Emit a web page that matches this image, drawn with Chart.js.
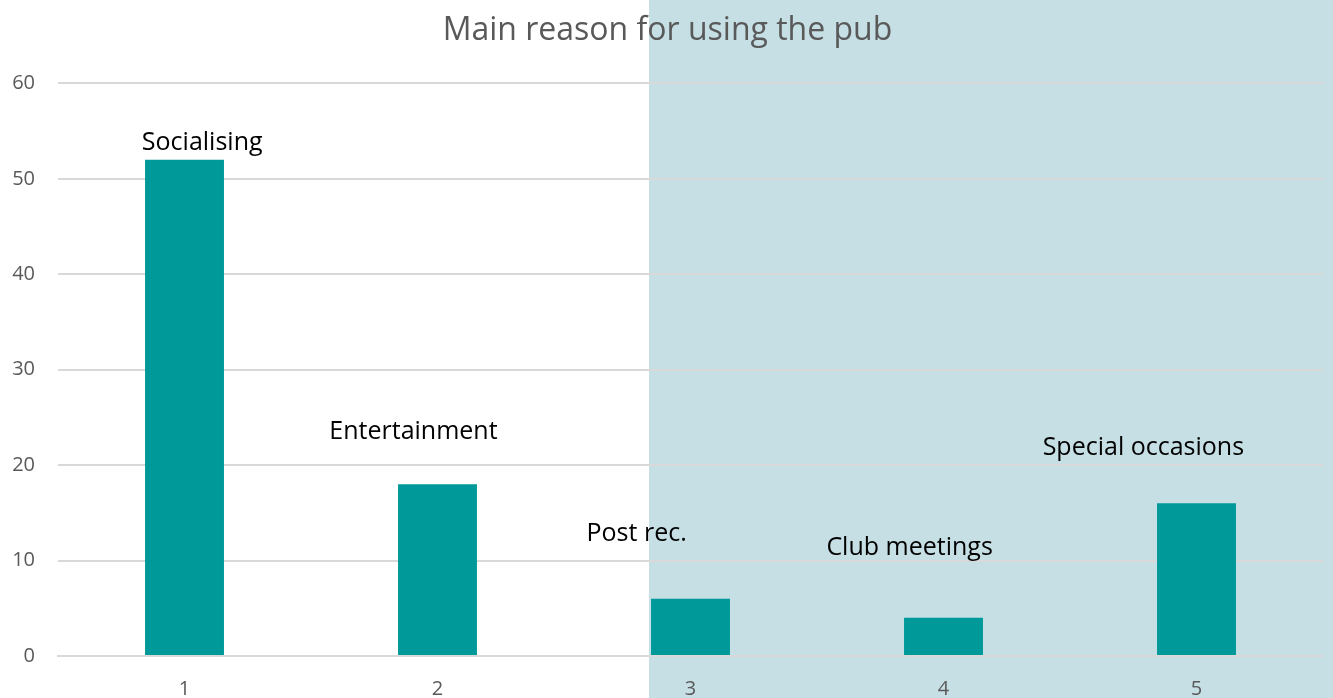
<!DOCTYPE html>
<html>
<head>
<meta charset="utf-8">
<title>Main reason for using the pub</title>
<script src="https://cdn.jsdelivr.net/npm/chart.js@4.4.1/dist/chart.umd.min.js"></script>
<style>
  html, body { margin: 0; padding: 0; background: #ffffff; }
  #wrap { width: 1333px; height: 698px; position: relative; }
</style>
</head>
<body>
<div id="wrap"><canvas id="pub-chart"></canvas></div>
<script>
// Data
const categories = ['1', '2', '3', '4', '5'];
const counts = [52, 18, 6, 4, 16];
const yTicks = [0, 10, 20, 30, 40, 50, 60];

// Free-floating text labels, anchored in data space (category index, value)
const labelTexts = ['Socialising', 'Entertainment', 'Post rec.', 'Club meetings', 'Special occasions'];
const labelCategory = [0.07, 0.905, 1.787, 2.866, 3.79];
const labelValue = [53.8, 23.5, 12.8, 11.3, 21.8];

const FONT = '"Open Sans", "Liberation Sans", sans-serif';

/**
 * Light blue panel behind the right part of the chart
 */
const backgroundPanel = {
    id: 'backgroundPanel',
    beforeDraw(chart) {
        const ctx = chart.ctx;
        const x = chart.scales.x;
        const meta = chart.getDatasetMeta(0);
        const bar = meta.data[2];
        const left = bar ? bar.x - bar.width / 2 - 2 : x.getPixelForValue(2);
        ctx.save();
        ctx.fillStyle = '#ffffff';
        ctx.fillRect(0, 0, chart.width, chart.height);
        ctx.fillStyle = '#c5dfe4';
        ctx.fillRect(left, 0, chart.width - left, chart.height);
        ctx.restore();
    }
};

/**
 * Draw the category names as loose text boxes
 */
const freeLabels = {
    id: 'freeLabels',
    afterDatasetsDraw(chart) {
        const ctx = chart.ctx;
        const x = chart.scales.x;
        const y = chart.scales.y;
        ctx.save();
        ctx.fillStyle = '#000000';
        ctx.font = '25px ' + FONT;
        ctx.textAlign = 'center';
        ctx.textBaseline = 'middle';
        labelTexts.forEach((t, i) => {
            ctx.fillText(t, x.getPixelForValue(labelCategory[i]), y.getPixelForValue(labelValue[i]));
        });
        ctx.restore();
    }
};

new Chart(document.getElementById('pub-chart'), {
    type: 'bar',
    data: {
        labels: categories,
        datasets: [{
            label: 'Count',
            data: counts,
            backgroundColor: '#009999',
            borderWidth: 0,
            barPercentage: 0.312,
            categoryPercentage: 1.0
        }]
    },
    options: {
        responsive: true,
        maintainAspectRatio: false,
        animation: false,
        layout: { padding: { left: 12, right: 10, top: 0, bottom: 0 } },
        plugins: {
            legend: { display: false },
            tooltip: { enabled: false },
            title: {
                display: true,
                text: 'Main reason for using the pub',
                color: '#595959',
                font: { family: FONT, size: 32, weight: 'normal' },
                padding: { top: 12, bottom: 33 }
            }
        },
        scales: {
            x: {
                grid: { display: false, drawTicks: false },
                border: { display: true, color: '#d9d9d9', width: 2 },
                ticks: {
                    color: '#595959',
                    font: { family: FONT, size: 20 },
                    padding: 21
                },
                afterFit(axis) { axis.height = 42; }
            },
            y: {
                min: 0,
                max: 60,
                afterBuildTicks(axis) {
                    axis.ticks = yTicks.map(v => ({ value: v }));
                },
                grid: { color: '#d9d9d9', lineWidth: 2, drawTicks: false },
                border: { display: false },
                ticks: {
                    color: '#595959',
                    font: { family: FONT, size: 20 },
                    padding: 23
                },
                afterFit(axis) { axis.width = 46; }
            }
        }
    },
    plugins: [backgroundPanel, freeLabels]
});
</script>
</body>
</html>
